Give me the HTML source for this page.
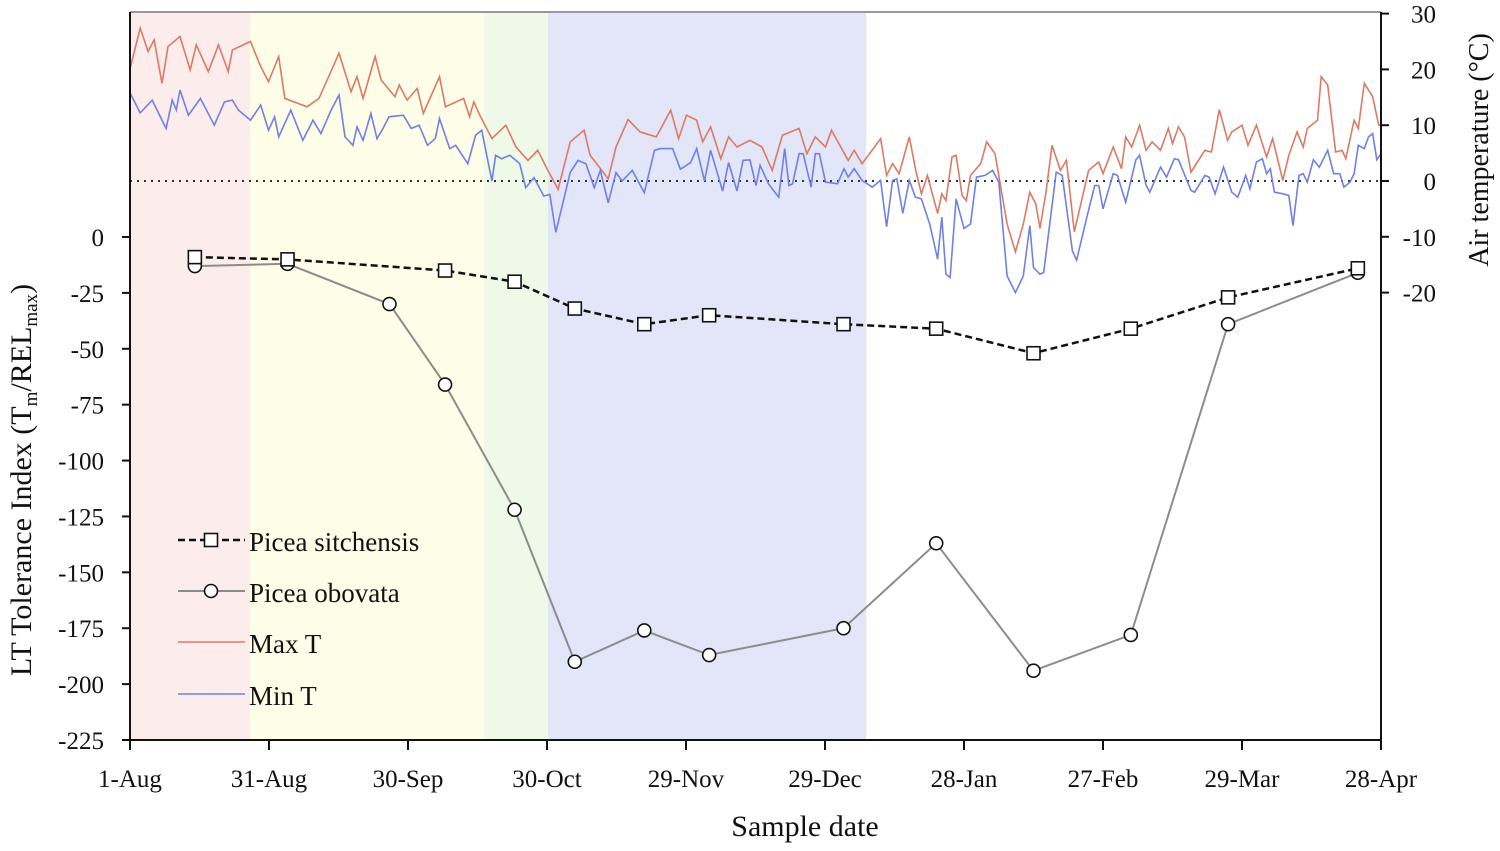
<!DOCTYPE html>
<html><head><meta charset="utf-8"><style>
body{margin:0;background:#fff}
svg{display:block;font-family:"Liberation Serif",serif}
</style></head><body>
<svg id="chart" width="1500" height="851" viewBox="0 0 1500 851"></svg>
<script>
// ---- data ----
const xTickLabels=["1-Aug","31-Aug","30-Sep","30-Oct","29-Nov","29-Dec","28-Jan","27-Feb","29-Mar","28-Apr"];
const xTickDays=[0,30,60,90,120,150,180,210,240,270];
const leftTicks=[0,-25,-50,-75,-100,-125,-150,-175,-200,-225];
const rightTicks=[30,20,10,0,-10,-20];
const bandStarts=[0,25.9,76.4,90.2];
const bandEnds=[25.9,76.4,90.2,158.9];
const sampleDays=[14,34,68,83,96,111,125,154,174,195,216,237,265];
const sitchensis=[-9,-10,-15,-20,-32,-39,-35,-39,-41,-52,-41,-27,-14];
const obovataDays=[14,34,56,68,83,96,111,125,154,174,195,216,237,265];
const obovata=[-13,-12,-30,-66,-122,-190,-176,-187,-175,-137,-194,-178,-39,-16];
const maxDays=[0,2.2,3.9,5.2,6.9,8.2,10.8,13,14.3,16.9,19.1,21.2,22.1,26,28.2,29.9,32.1,33.4,38.2,40.8,45.1,47.7,49,50.3,52.9,54.2,57.2,58.1,59.8,62,63.3,66.8,68.1,72,73.3,74.2,75.5,78.1,81.1,83.3,85.9,88,90.2,92.4,95,98,99.3,103.2,104.9,107.5,110.1,113.6,116.7,118.4,120.1,122.3,123.6,125.3,127.5,129.2,131,133.8,136.4,138.6,140.8,144.4,146.1,147.9,150.1,151.4,155,156.3,158,162,163.3,164.6,166,168.2,169.5,170.8,172.1,174.3,175.2,176.1,177.4,178.3,179.6,180.5,181.4,183.6,184.9,186.7,189.3,191.1,192.8,194.2,195.5,196.4,197.7,199,200.8,202.1,203.8,205.2,206.9,209.1,210,212.2,214,214.9,216.2,217.9,219.3,220.6,222.4,224.1,225,226.3,227.6,229,232,233.4,235.1,236.9,237.8,240,241.3,243.1,245.3,246.6,248.8,250.1,251.9,253.2,254.1,256.3,257.1,258.5,260.2,261.6,262.4,264.2,265.1,266.4,268.2,269.5,270];
const maxT=[20.1,27.4,23.2,25.3,17.5,24.1,25.9,19.9,24.4,19.6,24.4,19.6,23.5,25,20.5,17.8,22.3,14.8,13.3,14.8,22.9,16,18.7,14.8,22.3,18.1,15.1,17.2,14.5,16.6,12.1,18.7,13.3,14.8,11.5,14.2,11.8,7.6,10,6.1,3.7,5.5,1.9,-1.5,7,9.1,4.6,0.4,6.1,11,8.8,7.9,12.7,7.6,11.8,10.9,7,9.7,4,7.9,6.1,7.3,6.1,1.9,8.2,9.4,4.9,7.9,6.1,9.1,3.7,5.5,3.1,7.6,1,3.1,1.3,7.9,2.2,-2.3,1,-5.8,-2.3,-3.5,4.3,4.6,-2.6,-3.5,1,3.1,7,4.9,-7.7,-12.7,-7.7,-2,-4.1,-8.5,-2,6.4,1.9,3.7,-9.1,-4.1,1.9,3.4,1.3,6.1,2.2,7.9,6.1,10,5.5,7,5.5,9.4,6.7,9.7,7.9,1.6,5.5,5.2,12.8,7.3,8.8,10,6.4,10,4.3,7.6,0.1,4.6,8.8,6.1,9.4,10.9,18.7,17.2,5.2,5.5,4,10.9,9.4,17.5,15.1,10,10];
const minDays=[0,2.2,4.8,7.8,9.1,10,10.8,12.6,15.2,18.2,20.4,22.1,23.4,26,28.2,29.9,31.2,32.1,34.7,37.3,39.5,41.2,43.4,45.1,46.4,48.1,49,50.3,52,53.3,54.6,55.9,59,60.7,62.4,64.2,65.9,66.8,69,70.3,72.9,74.6,75.9,78.1,78.9,80.2,82,84.1,85.4,87.2,89.3,90.6,91.9,95,96.7,98.4,100.2,101.5,103.2,104.9,106.2,108.4,111,113.2,114.5,117.1,118.8,121,122.3,124,125.3,127.9,129.2,131,132.3,133.8,135.1,136,137.8,140,141.3,142.2,143,144.4,145.3,147,147.9,148.8,150.1,152.7,154.1,155,156.3,158,160.2,162,163.3,164.6,165.5,166.8,168.2,169.5,170.8,172.6,174.3,175.2,176.1,177,178.3,180,181.4,182.7,184.5,186.2,187.5,189.3,191.1,192.8,194.2,195,196.4,197.2,199.9,201.2,203.4,204.3,206.5,208.2,209.1,210,212.2,213.1,214.9,217.1,217.9,219.3,220.1,222.4,223.7,225.4,226.3,229,229.8,232,232.9,234.2,236,237.8,239.1,240.8,241.7,243.1,244.4,245.3,246.1,247,248.8,250.1,251,252.3,253.2,254.1,255.4,256.7,258.5,259.8,261.1,262,263.3,264.2,265.1,266.4,267.3,268.2,269.1,270];
const minT=[15.8,12.2,14.5,9.4,14.5,12.7,16.3,11.8,14.8,10,14.2,14.5,12.7,10.9,13.6,9.1,11.5,7.9,12.7,7.3,10.9,8.5,12.7,15.4,7.9,6.4,9.7,7.3,12.1,7.6,9.4,11.5,11.8,9.4,10,6.4,7.6,11.2,5.8,6.4,3.1,8.2,9.1,0,4.6,4,4.6,3.1,-1.2,0.6,-2.7,-2.4,-9.2,1.5,3.7,3.1,-1.2,1.9,-3.9,1.5,0,1.9,-2.1,5.5,5.8,5.8,2.1,3.3,5.8,0,5.5,-1.8,3.3,-1.8,3.7,3.8,-0.8,2.8,-0.5,-2.9,5.8,-0.8,-0.5,4.9,4.9,-1.1,4.9,4.9,-0.2,-0.5,2.2,0.7,2.2,0.1,-1.1,0.1,-8.2,0.1,0.4,-5.8,0.1,-2.9,-3.2,-7.7,-14,-6.5,-16.7,-17.3,-3.2,-8.5,-7.7,0.7,1,1.9,-0.2,-17,-20,-17,-8,-15.5,-16.7,-16.4,1.6,1,-12.5,-14.2,-6.5,-0.8,-0.8,-5,1.3,1,-3.8,3.8,4.6,-0.8,-2,2.5,0.7,4,3.8,-1.7,-2,1,0.7,-2.3,2.5,-2,-2.9,1,-1.4,3.4,4,1.3,2.2,-2,-2.3,-2.6,-8,1,1.3,-0.2,3.8,2.5,5.5,1.3,1.3,-1.1,-0.2,1.3,6.4,5.8,7.9,8.5,3.8,4.9];

// ---- scales ----
const X0=130,X1=1381;
const xs=d=>X0+d*(X1-X0)/270;
const yl=v=>237+(-v)*(740-237)/225;
const yr=t=>181-t*5.58;
const svg=document.getElementById('chart');
const NS='http://www.w3.org/2000/svg';
function mk(tag,attrs,parent){const e=document.createElementNS(NS,tag);for(const k in attrs)e.setAttribute(k,attrs[k]);(parent||svg).appendChild(e);return e;}

// bands
const bandColors=['#fcecec','#fdfde8','#eef9e8','#e3e5f8'];
const bandNames=['band-summer','band-autumn','band-transition','band-winter'];
bandStarts.forEach((s,i)=>{
  const r=mk('rect',{x:xs(s),y:12,width:xs(bandEnds[i])-xs(s),height:728,fill:bandColors[i]});
  
  
});
const zl=mk('line',{x1:X0,x2:X1,y1:yr(0),y2:yr(0),stroke:'#333','stroke-width':2,'stroke-dasharray':'2,5'});



function poly(days,vals,scale,attrs,name){
  const n=Math.min(days.length,vals.length);
  const pts=[];
  for(let i=0;i<n;i++)pts.push(xs(days[i]).toFixed(1)+','+scale(vals[i]).toFixed(1));
  const p=mk('polyline',Object.assign({points:pts.join(' '),fill:'none'},attrs));
  
  
}
poly(maxDays,maxT,yr,{stroke:'#dd7a66','stroke-width':1.6},'max-temperature-line');
poly(minDays,minT,yr,{stroke:'#7080e4','stroke-width':1.6},'min-temperature-line');
poly(obovataDays,obovata,yl,{stroke:'#8c8c8c','stroke-width':2},'obovata-line');
poly(sampleDays,sitchensis,yl,{stroke:'#111','stroke-width':2.5,'stroke-dasharray':'7,4'},'sitchensis-line');
obovataDays.forEach((d,i)=>{
  const c=mk('circle',{cx:xs(d),cy:yl(obovata[i]),r:6.5,fill:'#fff',stroke:'#111','stroke-width':1.6});
  
  
});
sampleDays.forEach((d,i)=>{
  const r=mk('rect',{x:xs(d)-6.5,y:yl(sitchensis[i])-6.5,width:13,height:13,fill:'#fff',stroke:'#111','stroke-width':1.6});
  
  
});

const topBorder=mk('line',{x1:X0,x2:X1,y1:12,y2:12,stroke:'#999','stroke-width':2});


const la=mk('line',{x1:X0,x2:X0,y1:12,y2:741,stroke:'#111','stroke-width':2});


const ra=mk('line',{x1:X1,x2:X1,y1:12,y2:741,stroke:'#111','stroke-width':2});


const ba=mk('line',{x1:X0-1,x2:X1+1,y1:740,y2:740,stroke:'#111','stroke-width':2});



const TS={'font-size':25,fill:'#111'};
leftTicks.forEach(v=>{
  mk('line',{x1:X0-8,x2:X0,y1:yl(v),y2:yl(v),stroke:'#111','stroke-width':2});
  const t=mk('text',Object.assign({x:104,y:yl(v)+9,'text-anchor':'end'},TS));
  t.textContent=v;
  
  
});
rightTicks.forEach(v=>{
  mk('line',{x1:X1,x2:X1+8,y1:yr(v),y2:yr(v),stroke:'#111','stroke-width':2});
  const t=mk('text',Object.assign({x:1436,y:yr(v)+9,'text-anchor':'end'},TS));
  t.textContent=v;
  
  
});
xTickDays.forEach((d,i)=>{
  mk('line',{x1:xs(d),x2:xs(d),y1:740,y2:750,stroke:'#111','stroke-width':2});
  const t=mk('text',Object.assign({x:xs(d),y:787,'text-anchor':'middle'},TS));
  t.textContent=xTickLabels[i];
  
  
});
</script>
<svg style="position:absolute;left:0;top:0" width="1500" height="851">
<g font-family="Liberation Serif, serif" fill="#111">
<text x="805" y="836" font-size="30" text-anchor="middle">Sample date</text>
<text transform="translate(31,480) rotate(-90)" font-size="30" text-anchor="middle">LT Tolerance Index (T<tspan font-size="19" dy="6">m</tspan><tspan dy="-6">/REL</tspan><tspan font-size="19" dy="6">max</tspan><tspan dy="-6">)</tspan></text>
<text transform="translate(1488,150) rotate(-90)" font-size="28" text-anchor="middle">Air temperature (°C)</text>
<g font-size="27">
<g><line x1="178" x2="245" y1="540" y2="540" stroke="#111" stroke-width="2.5" stroke-dasharray="7,4"/><rect x="204.5" y="533.5" width="13" height="13" fill="#fff" stroke="#111" stroke-width="1.6"/><text x="249" y="551">Picea sitchensis</text></g>
<g><line x1="178" x2="245" y1="591" y2="591" stroke="#8c8c8c" stroke-width="2"/><circle cx="211" cy="591" r="6.5" fill="#fff" stroke="#111" stroke-width="1.6"/><text x="249" y="602">Picea obovata</text></g>
<g><line x1="178" x2="245" y1="642" y2="642" stroke="#dd7a66" stroke-width="1.6"/><text x="249" y="653">Max T</text></g>
<g><line x1="178" x2="245" y1="694" y2="694" stroke="#7080e4" stroke-width="1.6"/><text x="249" y="705">Min T</text></g>
</g>
</g>
</svg>
</body></html>
